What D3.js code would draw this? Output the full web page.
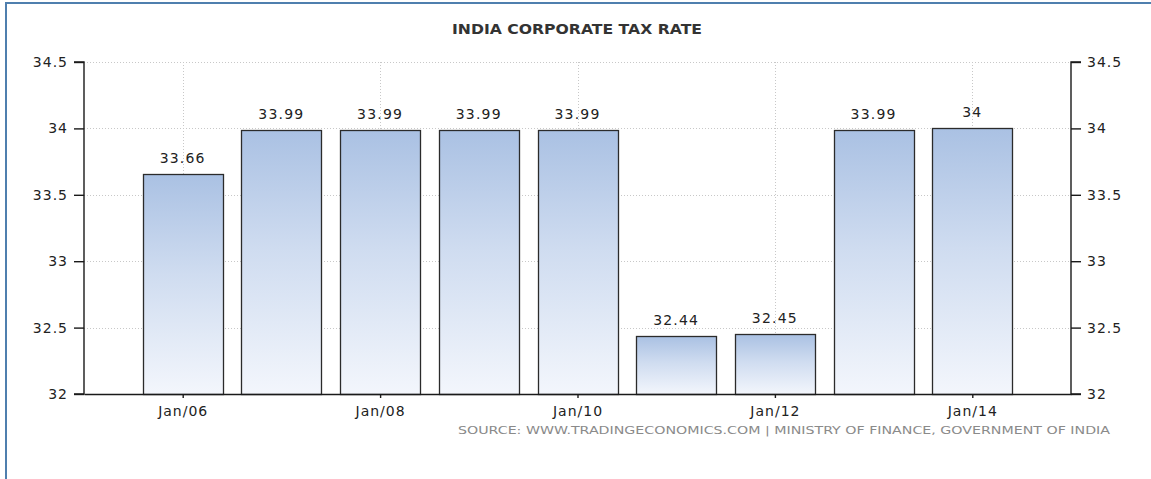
<!DOCTYPE html>
<html>
<head>
<meta charset="utf-8">
<script src="https://cdn.jsdelivr.net/npm/d3@7"></script>
<style>
  html, body { margin: 0; padding: 0; background: #fff; }
  svg { display: block; }
  text { font-family: "DejaVu Sans", Verdana, sans-serif; }
</style>
</head>
<body>
<svg id="chart" width="1151" height="479"></svg>
<script>
// India corporate tax rate, January of each year
const years = [2006, 2007, 2008, 2009, 2010, 2011, 2012, 2013, 2014];
const rates = [33.66, 33.99, 33.99, 33.99, 33.99, 32.44, 32.45, 33.99, 34];
const yTicks = [32, 32.5, 33, 33.5, 34, 34.5];
const xTickYears = [2006, 2008, 2010, 2012, 2014];
const xTickLabels = ["Jan/06", "Jan/08", "Jan/10", "Jan/12", "Jan/14"];

const W = 1151, H = 479;
const plot = { left: 84, right: 1071, top: 62, bottom: 394 };

const svg = d3.select("#chart");

// frame lines along the top and left edge
svg.append("line").attr("x1", 5).attr("x2", W).attr("y1", 3).attr("y2", 3)
  .attr("stroke", "#4f7fae").attr("stroke-width", 2);
svg.append("line").attr("x1", 6).attr("x2", 6).attr("y1", 2).attr("y2", H)
  .attr("stroke", "#4f7fae").attr("stroke-width", 2);

const x = d3.scaleLinear().domain([2005, 2015]).range([plot.left, plot.right]);
const y = d3.scaleLinear().domain([32, 34.5]).range([plot.bottom, plot.top]);
const barW = (x(2006) - x(2005)) * 0.81;

// bar fill: blue at top fading to near white
const defs = svg.append("defs");
const grad = defs.append("linearGradient").attr("id", "barGrad")
  .attr("x1", 0).attr("y1", 0).attr("x2", 0).attr("y2", 1);
grad.append("stop").attr("offset", "0%").attr("stop-color", "#aac1e3");
grad.append("stop").attr("offset", "45%").attr("stop-color", "#cfdcf0");
grad.append("stop").attr("offset", "100%").attr("stop-color", "#f3f6fc");

// dotted grid
const grid = svg.append("g");
grid.selectAll("line.h").data(yTicks.slice(1)).join("line")
  .attr("class", "h")
  .attr("x1", plot.left).attr("x2", plot.right)
  .attr("y1", d => Math.round(y(d)) + 0.5).attr("y2", d => Math.round(y(d)) + 0.5)
  .attr("stroke", "#c8c8c8").attr("stroke-dasharray", "1,2");
grid.selectAll("line.v").data(xTickYears).join("line")
  .attr("class", "v")
  .attr("x1", d => Math.round(x(d)) + 0.5).attr("x2", d => Math.round(x(d)) + 0.5)
  .attr("y1", plot.top).attr("y2", plot.bottom)
  .attr("stroke", "#c8c8c8").attr("stroke-dasharray", "1,2");

// bars
svg.append("g").selectAll("rect").data(years).join("rect")
  .attr("x", (d) => Math.round(x(d) - barW / 2) + 0.5)
  .attr("y", (d, i) => Math.round(y(rates[i])) + 0.5)
  .attr("width", Math.round(barW))
  .attr("height", (d, i) => Math.round(y(32)) - Math.round(y(rates[i])))
  .attr("fill", "url(#barGrad)")
  .attr("stroke", "#2b2b2b").attr("stroke-width", 1.3);

// value labels
svg.append("g").selectAll("text").data(years).join("text")
  .attr("x", d => x(d))
  .attr("y", (d, i) => y(rates[i]) - 11)
  .attr("text-anchor", "middle")
  .attr("font-size", 14).attr("letter-spacing", 1.2)
  .attr("fill", "#222")
  .text((d, i) => String(rates[i]));

// axes
const fmt = d => String(d);
const leftAxis = d3.axisLeft(y).tickValues(yTicks).tickFormat(fmt).tickSize(10).tickPadding(6);
const rightAxis = d3.axisRight(y).tickValues(yTicks).tickFormat(fmt).tickSize(10).tickPadding(6);
const bottomAxis = d3.axisBottom(x).tickValues(xTickYears)
  .tickFormat((d, i) => xTickLabels[i]).tickSize(4).tickPadding(8).tickSizeOuter(0);

function style(g) {
  g.selectAll("path, line").attr("stroke", "#1a1a1a").attr("stroke-width", 1.4);
  g.selectAll("text").attr("fill", "#222").attr("font-size", 14)
    .attr("letter-spacing", 1).attr("font-family", "\"DejaVu Sans\", Verdana, sans-serif");
}

svg.append("g").attr("transform", `translate(${plot.left},0)`)
  .call(leftAxis).call(g => g.select(".domain").attr("d", `M-10,${plot.top}H0V${plot.bottom}H-10`)).call(style);
svg.append("g").attr("transform", `translate(${plot.right},0)`)
  .call(rightAxis).call(g => g.select(".domain").attr("d", `M10,${plot.top}H0V${plot.bottom}H10`)).call(style);
svg.append("g").attr("transform", `translate(0,${plot.bottom})`)
  .call(bottomAxis).call(style);

// title
svg.append("text")
  .attr("x", 577).attr("y", 34)
  .attr("text-anchor", "middle")
  .attr("font-size", 13.5).attr("font-weight", "bold")
  .attr("fill", "#333")
  .attr("textLength", 250).attr("lengthAdjust", "spacingAndGlyphs")
  .text("INDIA CORPORATE TAX RATE");

// source line
svg.append("text")
  .attr("x", 784).attr("y", 434)
  .attr("text-anchor", "middle")
  .attr("font-size", 11)
  .attr("fill", "#8a8a8a")
  .attr("textLength", 652).attr("lengthAdjust", "spacingAndGlyphs")
  .text("SOURCE: WWW.TRADINGECONOMICS.COM | MINISTRY OF FINANCE, GOVERNMENT OF INDIA");
</script>
</body>
</html>
